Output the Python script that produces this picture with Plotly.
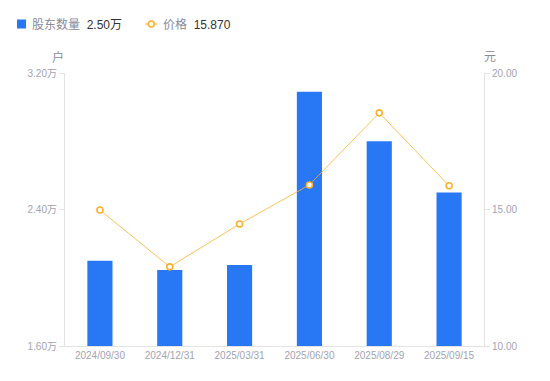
import plotly.graph_objects as go

categories = ["2024/09/30", "2024/12/31", "2025/03/31", "2025/06/30", "2025/08/29", "2025/09/15"]
holders_wan = [2.10, 2.045, 2.075, 3.09, 2.80, 2.50]
price = [14.98, 12.90, 14.47, 15.90, 18.54, 15.87]
left_ticks = [1.60, 2.40, 3.20]
right_ticks = [10.00, 15.00, 20.00]
legend_names = ["股东数量", "价格"]
legend_values = ["2.50万", "15.870"]

FONT = "Liberation Sans, Noto Sans CJK SC, sans-serif"
GRAY = "#a3a3b3"
AXIS = "#e3e3e3"
BLUE = "#2878f5"
ORANGE = "#f9b12c"

OFF = 8  # page body margin
W, H = 550 - 2 * OFF, 381 - 2 * OFF
L, T = 65 - OFF, 73 - OFF
R = W - (484 - OFF)
B = H - (346 - OFF)
PW, PH = W - L - R, H - T - B


def px(xs):
    return (xs - OFF - L) / PW


def py(ys):
    return (H - B - (ys - OFF)) / PH


fig = go.Figure()
fig.add_trace(go.Bar(
    x=categories, y=holders_wan, width=0.36,
    marker=dict(color=BLUE, line=dict(width=0)),
    name=legend_names[0], yaxis="y",
))
fig.add_trace(go.Scatter(
    x=categories, y=price, mode="lines+markers",
    line=dict(color=ORANGE, width=0.8),
    marker=dict(symbol="circle", size=6, color="white", line=dict(color=ORANGE, width=1.6)),
    name=legend_names[1], yaxis="y2",
))

tick_font = dict(size=10, color=GRAY, family=FONT)
fig.update_layout(
    width=W, height=H,
    margin=dict(l=L, r=R, t=T, b=B, autoexpand=False),
    paper_bgcolor="white", plot_bgcolor="white",
    font=dict(family=FONT, size=11, color=GRAY),
    showlegend=False,
    xaxis=dict(showline=True, linecolor=AXIS, linewidth=1, ticks="", showgrid=False,
               tickfont=tick_font, zeroline=False, automargin=False),
    yaxis=dict(range=[1.6, 3.2], tickvals=left_ticks, ticktext=[f"{v:.2f}万" for v in left_ticks],
               showline=True, linecolor=AXIS, linewidth=1, ticks="outside", ticklen=5, tickcolor=AXIS,
               showgrid=False, zeroline=False, tickfont=tick_font, automargin=False),
    yaxis2=dict(range=[10, 20], tickvals=right_ticks, ticktext=[f"{v:.2f}" for v in right_ticks],
                overlaying="y", side="right",
                showline=True, linecolor=AXIS, linewidth=1, ticks="outside", ticklen=5, tickcolor=AXIS,
                showgrid=False, zeroline=False, tickfont=tick_font, automargin=False),
    shapes=[
        dict(type="rect", xref="paper", yref="paper", x0=px(17), x1=px(26), y0=py(28.5), y1=py(19.5),
             fillcolor=BLUE, line=dict(width=0)),
        dict(type="line", xref="paper", yref="paper", x0=px(145), x1=px(157), y0=py(24), y1=py(24),
             line=dict(color=ORANGE, width=1)),
        dict(type="circle", xref="paper", yref="paper", x0=px(148.3), x1=px(154.3), y0=py(27), y1=py(21),
             fillcolor="white", line=dict(color=ORANGE, width=1.6)),
    ],
    annotations=[
        dict(text=f"{legend_names[0]}  <span style='color:#333333'>{legend_values[0]}</span>",
             x=px(30), y=py(24.5), xref="paper", yref="paper", showarrow=False,
             xanchor="left", yanchor="middle", font=dict(size=12, color="#8a8a99")),
        dict(text=f"{legend_names[1]}  <span style='color:#333333'>{legend_values[1]}</span>",
             x=px(161), y=py(24.5), xref="paper", yref="paper", showarrow=False,
             xanchor="left", yanchor="middle", font=dict(size=12, color="#8a8a99")),
        dict(text="户", x=px(58), xref="paper", y=py(57), yref="paper", showarrow=False,
             xanchor="center", yanchor="middle", font=dict(size=12, color="#8a8a99")),
        dict(text="元", x=px(490), xref="paper", y=py(57), yref="paper", showarrow=False,
             xanchor="center", yanchor="middle", font=dict(size=12, color="#8a8a99")),
    ],
)

fig.write_html("out.html")
